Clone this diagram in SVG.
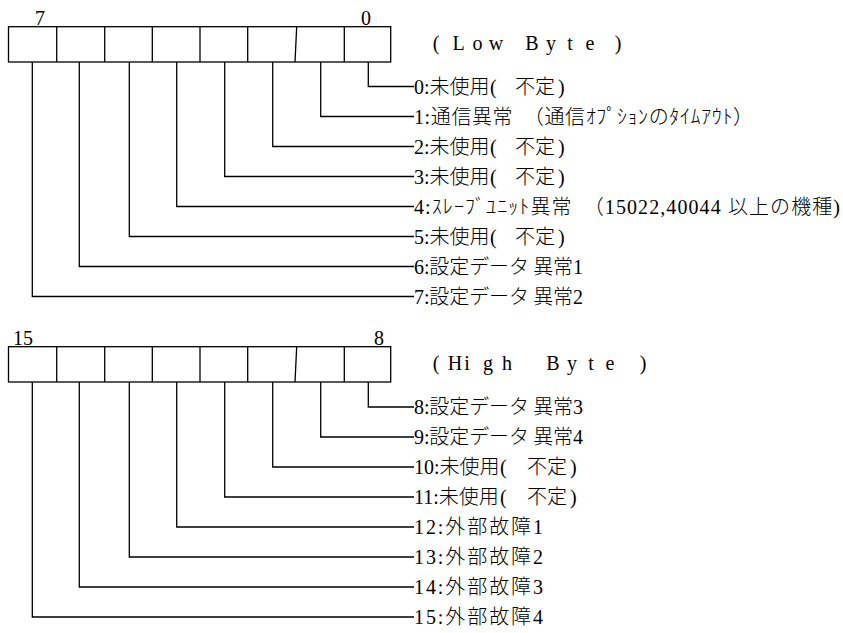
<svg xmlns="http://www.w3.org/2000/svg" width="843" height="633" viewBox="0 0 843 633">
<style>
.bg{fill:#fff}
.box{fill:none;stroke:#000;stroke-width:1.3}
.div{stroke:#000;stroke-width:1.3}
.con{fill:none;stroke:#000;stroke-width:1.3}
.t{font-family:"Noto Sans CJK JP","Liberation Serif",sans-serif;font-size:20px;font-weight:300;fill:#000}
.l{font-family:"Liberation Serif",serif;font-weight:400}
.n{font-family:"Liberation Serif",serif;font-size:20px;fill:#000}
.c{text-anchor:middle}
</style>
<rect class="bg" x="0" y="0" width="843" height="633"/>

<g id="low-byte-register">
  <rect class="box" x="8.5" y="26.7" width="382.2" height="35.3"/>
  <line class="div" x1="56.7" y1="26.7" x2="56.7" y2="62"/>
  <line class="div" x1="104.7" y1="26.7" x2="104.7" y2="62"/>
  <line class="div" x1="152.3" y1="26.7" x2="152.3" y2="62"/>
  <line class="div" x1="200" y1="26.7" x2="200" y2="62"/>
  <line class="div" x1="247.7" y1="26.7" x2="247.7" y2="62"/>
  <line class="div" x1="296.7" y1="26.7" x2="295" y2="62"/>
  <line class="div" x1="344.3" y1="26.7" x2="344.3" y2="62"/>
  <text class="n" x="35" y="25">7</text>
  <text class="n" x="361" y="25">0</text>
  <text class="n c" x="436 458.5 477.5 496 515 532 551 570 590 618" y="50">(Low Byte)</text>
</g>

<g id="high-byte-register">
  <rect class="box" x="8.5" y="346.7" width="382.2" height="35.3"/>
  <line class="div" x1="56.7" y1="346.7" x2="56.7" y2="382"/>
  <line class="div" x1="104.7" y1="346.7" x2="104.7" y2="382"/>
  <line class="div" x1="152.3" y1="346.7" x2="152.3" y2="382"/>
  <line class="div" x1="200" y1="346.7" x2="200" y2="382"/>
  <line class="div" x1="247.7" y1="346.7" x2="247.7" y2="382"/>
  <line class="div" x1="296.7" y1="346.7" x2="295" y2="382"/>
  <line class="div" x1="344.3" y1="346.7" x2="344.3" y2="382"/>
  <text class="n" x="13" y="345">15</text>
  <text class="n" x="374" y="345">8</text>
  <text class="n c" x="436 455 467 488 507 530 553 572 591 610 643" y="370">(High Byte)</text>
</g>

<g id="connectors">
  <path class="con" d="M368.3,62 V86.5 H414"/>
  <path class="con" d="M320.7,62 V116.5 H414"/>
  <path class="con" d="M272.7,62 V146.5 H414"/>
  <path class="con" d="M224.7,62 V176.5 H414"/>
  <path class="con" d="M176.7,62 V206.5 H414"/>
  <path class="con" d="M129.3,62 V236.5 H414"/>
  <path class="con" d="M79.3,62 V266.5 H414"/>
  <path class="con" d="M32.3,62 V296.5 H414"/>
  <path class="con" d="M368.3,382 V407 H414"/>
  <path class="con" d="M320.7,382 V437 H414"/>
  <path class="con" d="M272.7,382 V467 H414"/>
  <path class="con" d="M224.7,382 V497 H414"/>
  <path class="con" d="M176.7,382 V527 H414"/>
  <path class="con" d="M129.3,382 V557 H414"/>
  <path class="con" d="M79.3,382 V587 H414"/>
  <path class="con" d="M32.3,382 V617 H414"/>
</g>

<g id="bit0"><text class="t" x="414" y="93.5"><tspan class="l">0:</tspan>未使用<tspan class="l" x="490">( </tspan><tspan x="515">不定</tspan><tspan class="l" x="558">)</tspan></text></g>
<g id="bit1"><text class="t" x="414" y="123.5" textLength="339"><tspan class="l">1:</tspan>通信異常　（通信ｵﾌﾟｼｮﾝのﾀｲﾑｱｳﾄ）</text></g>
<g id="bit2"><text class="t" x="414" y="153.5"><tspan class="l">2:</tspan>未使用<tspan class="l" x="490">( </tspan><tspan x="515">不定</tspan><tspan class="l" x="558">)</tspan></text></g>
<g id="bit3"><text class="t" x="414" y="183.5"><tspan class="l">3:</tspan>未使用<tspan class="l" x="490">( </tspan><tspan x="515">不定</tspan><tspan class="l" x="558">)</tspan></text></g>
<g id="bit4"><text class="t" x="414" y="213.5" textLength="426"><tspan class="l">4:</tspan>ｽﾚｰﾌﾞﾕﾆｯﾄ異常　（<tspan class="l">15022,40044 </tspan>以上の機種<tspan class="l">)</tspan></text></g>
<g id="bit5"><text class="t" x="414" y="243.5"><tspan class="l">5:</tspan>未使用<tspan class="l" x="490">( </tspan><tspan x="515">不定</tspan><tspan class="l" x="558">)</tspan></text></g>
<g id="bit6"><text class="t" x="414" y="273.5" textLength="169"><tspan class="l">6:</tspan>設定データ 異常<tspan class="l">1</tspan></text></g>
<g id="bit7"><text class="t" x="414" y="303.5" textLength="169"><tspan class="l">7:</tspan>設定データ 異常<tspan class="l">2</tspan></text></g>
<g id="bit8"><text class="t" x="414" y="414" textLength="169"><tspan class="l">8:</tspan>設定データ 異常<tspan class="l">3</tspan></text></g>
<g id="bit9"><text class="t" x="414" y="444" textLength="169"><tspan class="l">9:</tspan>設定データ 異常<tspan class="l">4</tspan></text></g>
<g id="bit10"><text class="t" x="414" y="474"><tspan class="l">10:</tspan>未使用<tspan class="l" x="500">( </tspan><tspan x="527">不定</tspan><tspan class="l" x="570">)</tspan></text></g>
<g id="bit11"><text class="t" x="414" y="504"><tspan class="l">11:</tspan>未使用<tspan class="l" x="500">( </tspan><tspan x="527">不定</tspan><tspan class="l" x="570">)</tspan></text></g>
<g id="bit12"><text class="t" x="414" y="534" textLength="129"><tspan class="l">12:</tspan>外部故障<tspan class="l">1</tspan></text></g>
<g id="bit13"><text class="t" x="414" y="564" textLength="129"><tspan class="l">13:</tspan>外部故障<tspan class="l">2</tspan></text></g>
<g id="bit14"><text class="t" x="414" y="594" textLength="129"><tspan class="l">14:</tspan>外部故障<tspan class="l">3</tspan></text></g>
<g id="bit15"><text class="t" x="414" y="624" textLength="129"><tspan class="l">15:</tspan>外部故障<tspan class="l">4</tspan></text></g>
</svg>
